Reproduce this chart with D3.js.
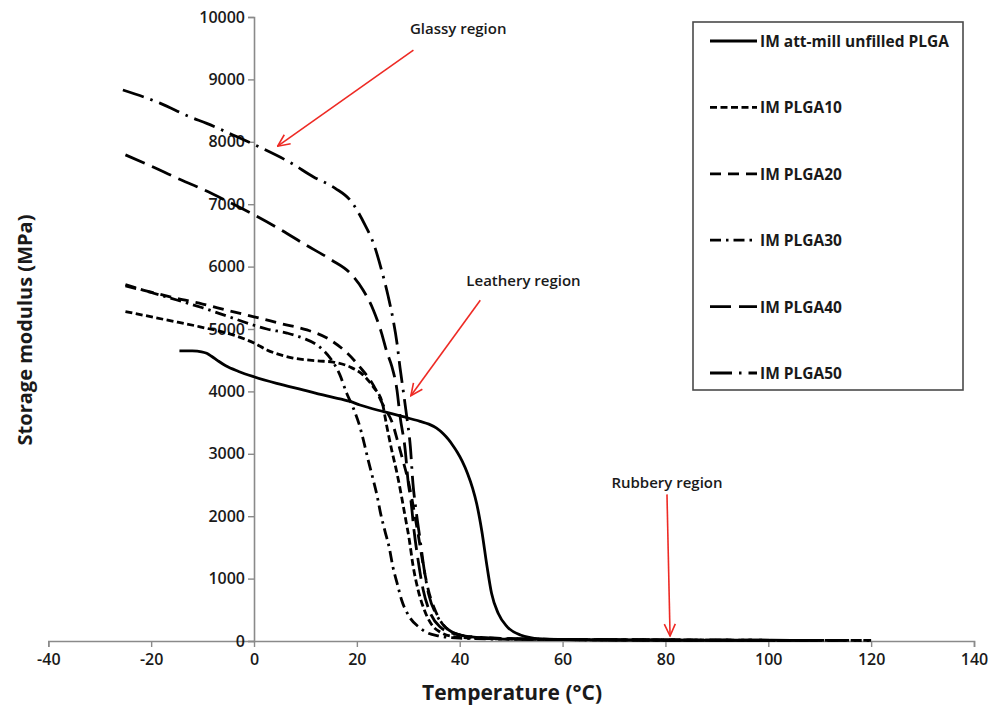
<!DOCTYPE html>
<html>
<head>
<meta charset="utf-8">
<script src="https://cdn.jsdelivr.net/npm/d3@7"></script>
<style>
  html, body { margin: 0; padding: 0; background: #fff; }
  svg { display: block; }
  text { font-family: "Open Sans", "DejaVu Sans", sans-serif; fill: #1a1a1a; }
</style>
</head>
<body>
<svg id="chart" width="1001" height="709"></svg>
<script>
// Storage modulus vs temperature for injection-moulded PLGA samples (DMA)
const seriesNames = [
  "IM att-mill unfilled PLGA",
  "IM PLGA10",
  "IM PLGA20",
  "IM PLGA30",
  "IM PLGA40",
  "IM PLGA50"
];

// [temperature °C, storage modulus MPa]
const unfilled = [
  [-14.5,4650],[-12,4648],[-10.2,4635],[-9.2,4610],[-8.2,4560],[-7,4490],[-5.5,4410],
  [-3,4320],[0,4235],[4.4,4130],[9.5,4025],[14.8,3915],[18.7,3840],[20.6,3782],
  [25.2,3675],[29,3595],[32.3,3520],[34,3475],[35.5,3410],[36.8,3320],[37.8,3230],
  [38.7,3130],[39.5,3030],[40.5,2880],[41.5,2690],[42.5,2450],[43.3,2200],[44.3,1760],
  [45.3,1200],[46.2,760],[47.5,440],[49.2,230],[51.8,96],[55.6,35],[60,22],[70,15],
  [80,12],[90,10],[100,8]
];
const plga10 = [
  [-25,5280],[-17,5145],[-10.5,5035],[-4.1,4905],[0,4775],[2.5,4665],[7.6,4535],
  [12.3,4490],[15.4,4470],[18.7,4390],[21.2,4265],[23.2,4070],[24.9,3830],[25.8,3450],
  [26.8,3050],[27.8,2690],[28.7,2310],[29.4,1990],[30.2,1620],[30.9,1220],[31.9,820],
  [33.1,500],[34.6,256],[36.2,144],[38.1,80],[42,48],[52,30],[60,22],[80,15],[100,10],[110,8]
];
const plga20 = [
  [-25,5690],[-20,5590],[-15,5490],[-10,5400],[-5,5295],[0,5195],[5.6,5080],[10.3,4985],
  [14.2,4855],[18.1,4615],[20.6,4390],[23.2,4100],[25.1,3780],[27,3470],[28,3180],
  [29,2880],[30,2560],[30.7,2280],[31.3,2000],[32.1,1619],[32.9,1218],[33.9,817],
  [35.2,497],[36.8,256],[38.5,144],[41,80],[46,48],[55,30],[70,20],[90,14],[113,9]
];
const plga30 = [
  [-25,5710],[-20,5585],[-15,5465],[-10,5340],[-5,5200],[0,5060],[2.5,5000],[6.4,4935],
  [9.5,4855],[12.8,4710],[14.8,4535],[16.7,4265],[18,3975],[19.3,3735],[20.6,3430],
  [21.4,3175],[22.2,2900],[23.1,2610],[23.9,2340],[24.6,2050],[25.5,1750],[26.3,1495],
  [27,1190],[27.8,935],[28.7,657],[30.2,389],[32.3,208],[33.3,149],[36,80],[40,45],
  [50,28],[70,18],[90,13],[120,8]
];
const plga40 = [
  [-25,7790],[-20,7610],[-15,7420],[-10,7240],[-5,7040],[0,6830],[5,6600],[10,6350],
  [15,6110],[18.7,5895],[21.2,5625],[23.2,5305],[24.8,4935],[25.8,4640],[26.8,4400],
  [27.8,4020],[28.4,3600],[29.4,3060],[30,2530],[30.5,2260],[31.1,1780],[31.9,1300],
  [32.9,817],[34.2,465],[36.2,224],[39.1,112],[43,64],[52,32],[70,20],[90,14],[117,9]
];
const plga50 = [
  [-25.5,8830],[-18.3,8620],[-12.5,8400],[-9.2,8295],[-4.1,8110],[1.2,7910],[7.3,7655],
  [11.5,7440],[15.8,7255],[18.7,7065],[21.6,6665],[23.2,6380],[24.8,5945],[26.1,5520],
  [27,5170],[27.8,4775],[28.4,4375],[29,4020],[29.7,3595],[30.4,3115],[30.9,2530],
  [31.5,2100],[32.3,1620],[33.1,1140],[34,737],[35.4,433],[37.4,208],[40.1,96],[44,48],
  [52,32],[70,20],[90,14],[120,9]
];

const xTicks = [-40,-20,0,20,40,60,80,100,120,140];
const yTicks = [0,1000,2000,3000,4000,5000,6000,7000,8000,9000,10000];

// Region annotations: label, label anchor, arrow tail, arrow tip (data units)
const regionLabels = ["Glassy region", "Leathery region", "Rubbery region"];
const labelAt  = [[39.7,9830],[52.4,5790],[80.3,2550]];
const arrowFrom = [[31.0,9470],[44.0,5460],[80.3,2350]];
const arrowTo   = [[4.6,7930],[30.5,3930],[80.9,80]];

const svg = d3.select("#chart");

const x = d3.scaleLinear().domain([-40, 140]).range([48.3, 974]);
const y = d3.scaleLinear().domain([0, 10000]).range([641, 17]);

// Axes cross at the origin; plain hyphen for negative labels
const plain = d => String(d);
const xAxis = svg.append("g")
  .attr("transform", `translate(0,${y(0)})`)
  .call(d3.axisBottom(x).tickValues(xTicks).tickSize(6).tickPadding(7).tickFormat(plain));
const yAxis = svg.append("g")
  .attr("transform", `translate(${x(0)},0)`)
  .call(d3.axisLeft(y).tickValues(yTicks).tickSize(6).tickPadding(3).tickFormat(plain));

[xAxis, yAxis].forEach(g => {
  g.select(".domain").attr("stroke", "#8a8a8a").attr("stroke-width", 1.6);
  g.selectAll(".tick line").attr("stroke", "#8a8a8a").attr("stroke-width", 1.4);
  g.selectAll(".tick text")
    .style("font-family", "'Open Sans', sans-serif")
    .style("font-size", "16px")
    .style("font-weight", 600)
    .attr("fill", "#1a1a1a");
});

// Axis titles
svg.append("text")
  .attr("x", 512).attr("y", 692)
  .attr("text-anchor", "middle").attr("dominant-baseline", "central")
  .style("font-size", "21px").style("font-weight", 700)
  .text("Temperature (°C)");
svg.append("text")
  .attr("transform", "translate(24,330) rotate(-90)")
  .attr("text-anchor", "middle").attr("dominant-baseline", "central")
  .style("font-size", "20px").style("font-weight", 700)
  .text("Storage modulus (MPa)");

// Curves
const series = [unfilled, plga10, plga20, plga30, plga40, plga50];
const dashes = ["none", "7,3.5", "11,7", "11,5,2.5,5", "21,8", "22,7,2.5,7"];

const line = d3.line()
  .x(d => x(d[0]))
  .y(d => y(d[1]))
  .curve(d3.curveMonotoneX);

svg.append("g").selectAll("path")
  .data(series)
  .join("path")
  .attr("d", line)
  .attr("fill", "none")
  .attr("stroke", "#000")
  .attr("stroke-width", 2.8)
  .attr("stroke-dasharray", (d, i) => dashes[i]);

// Region arrows
svg.append("defs").append("marker")
  .attr("id", "redhead")
  .attr("markerUnits", "userSpaceOnUse")
  .attr("viewBox", "0 0 14 14")
  .attr("refX", 13).attr("refY", 7)
  .attr("markerWidth", 14).attr("markerHeight", 14)
  .attr("orient", "auto")
  .append("path")
  .attr("d", "M1,1.5 L13,7 L1,12.5")
  .attr("fill", "none")
  .attr("stroke", "#ee2a24")
  .attr("stroke-width", 1.6);

const notes = svg.append("g");
regionLabels.forEach((label, i) => {
  notes.append("line")
    .attr("x1", x(arrowFrom[i][0])).attr("y1", y(arrowFrom[i][1]))
    .attr("x2", x(arrowTo[i][0])).attr("y2", y(arrowTo[i][1]))
    .attr("stroke", "#ee2a24").attr("stroke-width", 1.6)
    .attr("marker-end", "url(#redhead)");
  notes.append("text")
    .attr("x", x(labelAt[i][0])).attr("y", y(labelAt[i][1]))
    .attr("text-anchor", "middle").attr("dominant-baseline", "central")
    .style("font-size", "15px").style("font-weight", 600)
    .attr("fill", "#222")
    .text(label);
});

// Legend
const legend = svg.append("g");
legend.append("rect")
  .attr("x", 693).attr("y", 22).attr("width", 270).attr("height", 368)
  .attr("fill", "#fff").attr("stroke", "#4a4a4a").attr("stroke-width", 1.6);

const rowY = d3.scaleLinear().domain([0, 5]).range([41, 373]);
seriesNames.forEach((name, i) => {
  legend.append("line")
    .attr("x1", 710).attr("x2", 757)
    .attr("y1", rowY(i)).attr("y2", rowY(i))
    .attr("stroke", "#000").attr("stroke-width", 2.8)
    .attr("stroke-dasharray", dashes[i]);
  legend.append("text")
    .attr("x", 760).attr("y", rowY(i))
    .attr("dominant-baseline", "central")
    .style("font-size", "15.5px").style("font-weight", 700)
    .text(name);
});
</script>
</body>
</html>
